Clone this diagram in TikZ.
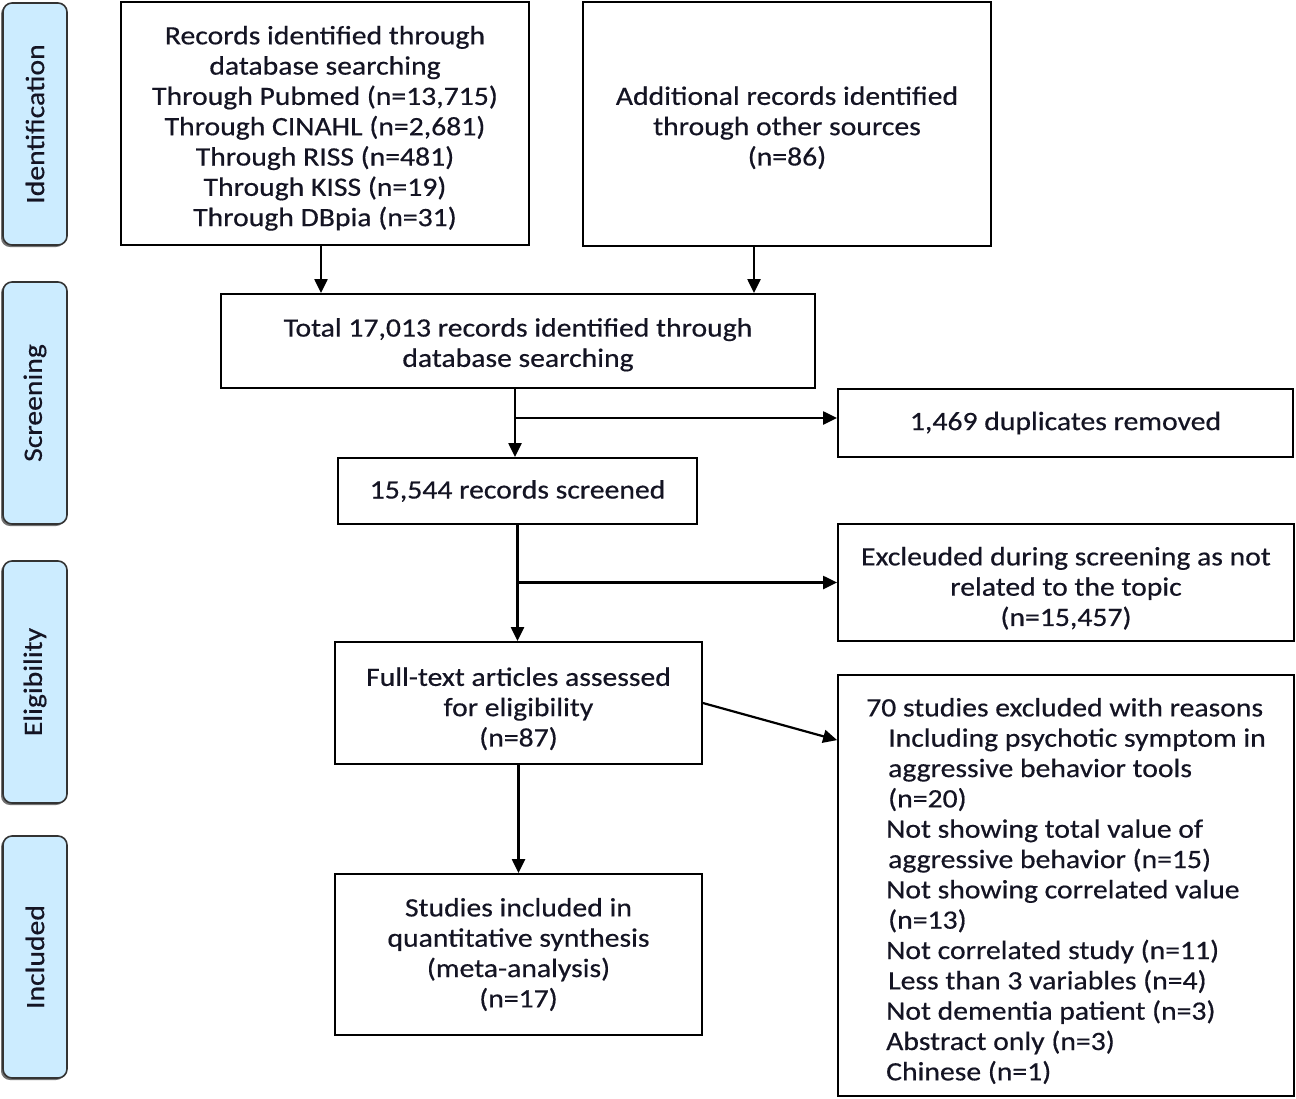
\documentclass[tikz,border=0pt]{standalone}
\usepackage{fontspec}
\setmainfont{Carlito}[FakeStretch=1.12, FakeBold=0.5]
\usetikzlibrary{arrows.meta,shadows}
\definecolor{stageblue}{RGB}{204,236,255}
\definecolor{ink}{RGB}{20,20,35}
\newcommand\lowerby[1]{\rule{0pt}{\dimexpr 20pt+2\dimexpr #1\relax\relax}}
\begin{document}
\begin{tikzpicture}[x=1pt,y=-1pt,
  box/.style={draw, line width=1.8pt, inner sep=0pt, align=center, text=ink,
    font=\fontsize{26.5}{30.3}\selectfont},
  stage/.style={draw=black!80, line width=1.6pt, fill=stageblue, rounded corners=9pt,
    rotate=90, minimum width=242pt, minimum height=64pt, inner sep=0pt, text=ink,
    font=\fontsize{26.5}{30}\selectfont,
    drop shadow={shadow xshift=-2pt, shadow yshift=-2pt, fill=black!55, opacity=1}},
  arr/.style={line width=2.2pt, -{Triangle[length=14pt,width=13pt]}}
]
\useasboundingbox (0,0) rectangle (1296,1098);

% stage labels
\node[stage] (s1) at (35,124) {Identification};
\node[stage] (s2) at (35,403) {Screening};
\node[stage] (s3) at (35,682) {Eligibility};
\node[stage] (s4) at (35,957) {Included};

% boxes
\node[box, minimum width=408pt, minimum height=243pt] (A) at (325,123.5)
  {\lowerby{4pt}Records identified through\\database searching\\Through Pubmed (n=13,715)\\Through CINAHL (n=2,681)\\Through RISS (n=481)\\Through KISS (n=19)\\Through DBpia (n=31)};
\node[box, minimum width=408pt, minimum height=244pt] (B) at (787,124)
  {\lowerby{3pt}Additional records identified\\through other sources\\(n=86)};
\node[box, minimum width=594pt, minimum height=94pt] (C) at (518,341)
  {\lowerby{3pt}Total 17,013 records identified through\\database searching};
\node[box, minimum width=455pt, minimum height=68pt] (D) at (1065.5,423)
  {1,469 duplicates removed};
\node[box, minimum width=359pt, minimum height=66pt] (E) at (517.5,491)
  {15,544 records screened};
\node[box, minimum width=456pt, minimum height=117pt] (F) at (1066,582.5)
  {\lowerby{5pt}Excleuded during screening as not\\related to the topic\\(n=15,457)};
\node[box, minimum width=367pt, minimum height=122pt] (G) at (518.5,703)
  {\lowerby{5pt}Full-text articles assessed\\for eligibility\\(n=87)};
\node[box, minimum width=456pt, minimum height=421pt] (H) at (1066,885.5) {};
\node[anchor=west, inner sep=0pt, align=left, text=ink,
  font=\fontsize{26.5}{30.33}\selectfont] (Ht) at (866,891)
  {70 studies excluded with reasons\\
   \hspace*{22pt}Including psychotic symptom in\\
   \hspace*{22pt}aggressive behavior tools\\
   \hspace*{22pt}(n=20)\\
   \hspace*{20pt}Not showing total value of\\
   \hspace*{22pt}aggressive behavior (n=15)\\
   \hspace*{20pt}Not showing correlated value\\
   \hspace*{22pt}(n=13)\\
   \hspace*{20pt}Not correlated study (n=11)\\
   \hspace*{22pt}Less than 3 variables (n=4)\\
   \hspace*{20pt}Not dementia patient (n=3)\\
   \hspace*{20pt}Abstract only (n=3)\\
   \hspace*{20pt}Chinese (n=1)};
\node[box, minimum width=367pt, minimum height=161pt] (I) at (518.5,954.5)
  {Studies included in\\quantitative synthesis\\(meta-analysis)\\(n=17)};

% connectors
\draw[arr] ([xshift=-4pt]A.south) -- ([xshift=-4pt]A.south |- C.north);
\draw[arr] ([xshift=-33pt]B.south) -- ([xshift=-33pt]B.south |- C.north);
\draw[arr] ([xshift=-3pt]C.south) -- ([xshift=-3pt]C.south |- E.north);
\draw[arr] ([xshift=-3pt,yshift=5pt]C.south |- D.west) -- ([yshift=5pt]D.west);
\draw[arr] (E.south) -- (E.south |- G.north);
\draw[arr] (E.south |- F.west) -- (F.west);
\draw[arr] (G.east) -- ([yshift=-66pt]H.north west);
\draw[arr] (G.south) -- (G.south |- I.north);
\end{tikzpicture}
\end{document}
